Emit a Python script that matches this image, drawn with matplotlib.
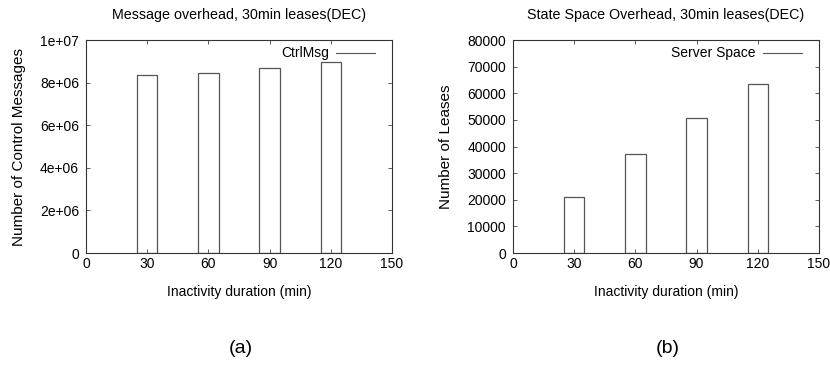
import matplotlib
matplotlib.use("Agg")
import matplotlib.pyplot as plt
from matplotlib.lines import Line2D

plt.rcParams["font.family"] = ["Liberation Sans", "DejaVu Sans"]

durations = [30, 60, 90, 120]
ctrl_msgs = [8.35e6, 8.45e6, 8.68e6, 8.95e6]
server_space = [21200, 37000, 50800, 63300]

x_ticks = [0, 30, 60, 90, 120, 150]
msg_ticks = [0, 2e6, 4e6, 6e6, 8e6, 1e7]
msg_labels = ["0", "2e+06", "4e+06", "6e+06", "8e+06", "1e+07"]
lease_ticks = [0, 10000, 20000, 30000, 40000, 50000, 60000, 70000, 80000]

FS = 10


def style_axes(ax, ylabel, title, key):
    ax.set_xlim(0, 150)
    ax.set_xticks(x_ticks)
    ax.tick_params(direction="in", top=True, right=True, labelsize=FS,
                   length=3, width=0.6, color="#444444")
    ax.tick_params(axis="x", pad=3)
    ax.tick_params(axis="y", pad=5)
    for s in ax.spines.values():
        s.set_linewidth(0.8)
        s.set_color("#333333")
    ax.set_xlabel("Inactivity duration (min)", fontsize=FS)
    ax.xaxis.set_label_coords(0.5, -0.15)
    ax.set_ylabel(ylabel, fontsize=11)
    ax.yaxis.set_label_coords(-0.195, 0.5)
    ax.set_title(title, fontsize=10.3, pad=15)
    ax.legend(handles=[Line2D([], [], color="#555555", lw=0.8, label=key)],
              loc="upper right", bbox_to_anchor=(0.944, 0.97),
              frameon=False, markerfirst=False, fontsize=FS,
              handlelength=2.8, handletextpad=0.5,
              borderpad=0, borderaxespad=0)


fig = plt.figure(figsize=(8.3, 3.65), dpi=100)
ax1 = fig.add_axes([0.1036, 0.3068, 0.3687, 0.5836])
ax2 = fig.add_axes([0.618, 0.3068, 0.3687, 0.5836])

ax1.bar(durations, ctrl_msgs, width=10, facecolor="white",
        edgecolor="#555555", linewidth=0.9)
ax1.set_ylim(0, 1e7)
ax1.set_yticks(msg_ticks)
ax1.set_yticklabels(msg_labels)
style_axes(ax1, "Number of Control Messages",
           "Message overhead, 30min leases(DEC)", "CtrlMsg")

ax2.bar(durations, server_space, width=10, facecolor="white",
        edgecolor="#555555", linewidth=0.9)
ax2.set_ylim(0, 80000)
ax2.set_yticks(lease_ticks)
style_axes(ax2, "Number of Leases",
           "State Space Overhead, 30min leases(DEC)", "Server Space")

fig.text(0.29, 0.046, "(a)", ha="center", va="center", fontsize=14)
fig.text(0.805, 0.046, "(b)", ha="center", va="center", fontsize=14)

fig.savefig("out.png", dpi=100)
